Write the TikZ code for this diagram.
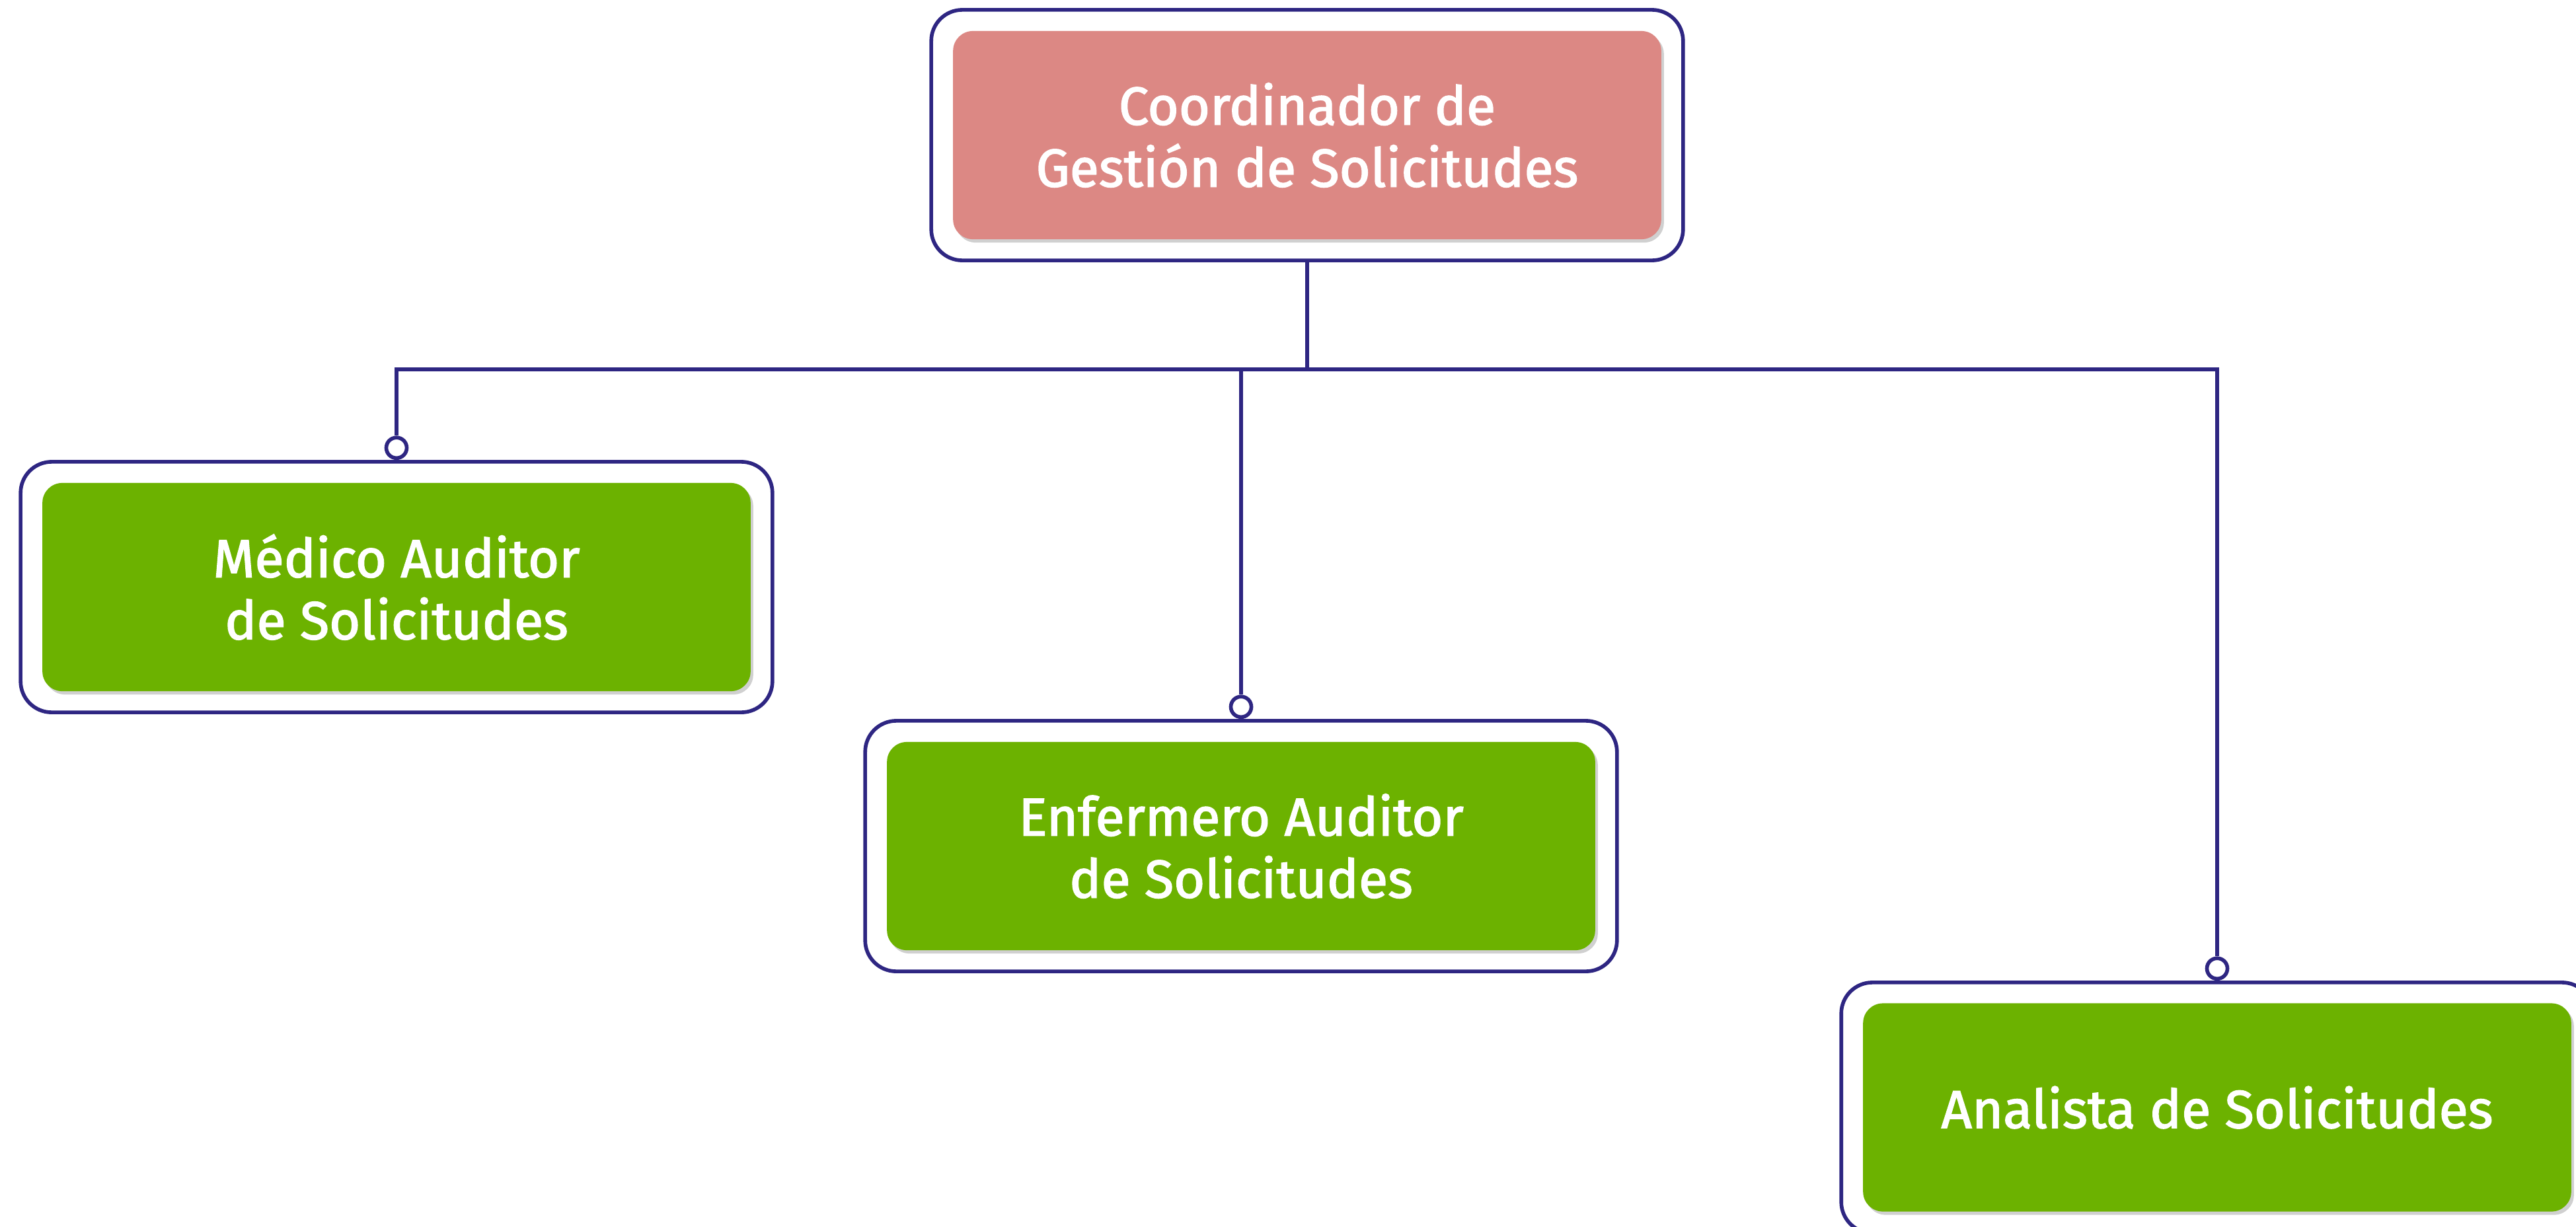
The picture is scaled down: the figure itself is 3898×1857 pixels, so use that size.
\documentclass[tikz,border=0pt]{standalone}
\usepackage{fontspec}
\setmainfont{Fira Sans}
\newfontfamily\boxfont{Fira Sans}[FakeBold=2]
\usetikzlibrary{shadows}
\definecolor{navy}{RGB}{46,38,130}
\definecolor{boxpink}{RGB}{220,136,132}
\definecolor{boxgreen}{RGB}{108,178,0}
\tikzset{
  outerbox/.style={draw=navy, line width=1.6pt, rounded corners=0.47cm, fill=white,
    minimum width=11.37cm, minimum height=3.79cm, inner sep=0pt},
  innerbox/.style={rounded corners=0.3cm, minimum width=10.71cm, minimum height=3.15cm,
    inner sep=0pt, text=white, align=center, font=\boxfont\fontsize{23}{26.7}\selectfont,
    drop shadow={shadow xshift=0.04cm, shadow yshift=-0.05cm, opacity=0.3, fill=black!60}},
  conn/.style={draw=navy, line width=1.6pt},
  knob/.style={circle, draw=navy, line width=1.6pt, fill=white, minimum size=0.31cm, inner sep=0pt},
}
\begin{document}
\begin{tikzpicture}[x=0.01cm, y=-0.01cm]
\useasboundingbox (0,0) rectangle (3898,1857);
\clip (0,0) rectangle (3898,1857);
% top
\node[outerbox] (to) at (1978,204.5) {};
\node[innerbox, fill=boxpink] (ti) at (1978,204.5) {Coordinador de\\Gestión de Solicitudes};
% left
\node[outerbox] (lo) at (600,888.5) {};
\node[innerbox, fill=boxgreen] (li) at (600,888.5) {Médico Auditor\\de Solicitudes};
% middle
\node[outerbox] (mo) at (1878,1280.5) {};
\node[innerbox, fill=boxgreen] (mi) at (1878,1280.5) {Enfermero Auditor\\de Solicitudes};
% right
\node[outerbox] (ro) at (3355,1676.5) {};
\node[innerbox, fill=boxgreen] (ri) at (3355,1676) {Analista de Solicitudes};
% connector knobs
\node[knob, anchor=south] (kl) at (lo.north) {};
\node[knob, anchor=south] (km) at (mo.north) {};
\node[knob, anchor=south] (kr) at (ro.north) {};
\coordinate (bus) at (1978,559);
\draw[conn] (to.south) -- (bus);
\draw[conn] (kl.north) |- (bus) -| (kr.north);
\draw[conn] (km.north) -- (km.north |- bus);
\end{tikzpicture}
\end{document}
